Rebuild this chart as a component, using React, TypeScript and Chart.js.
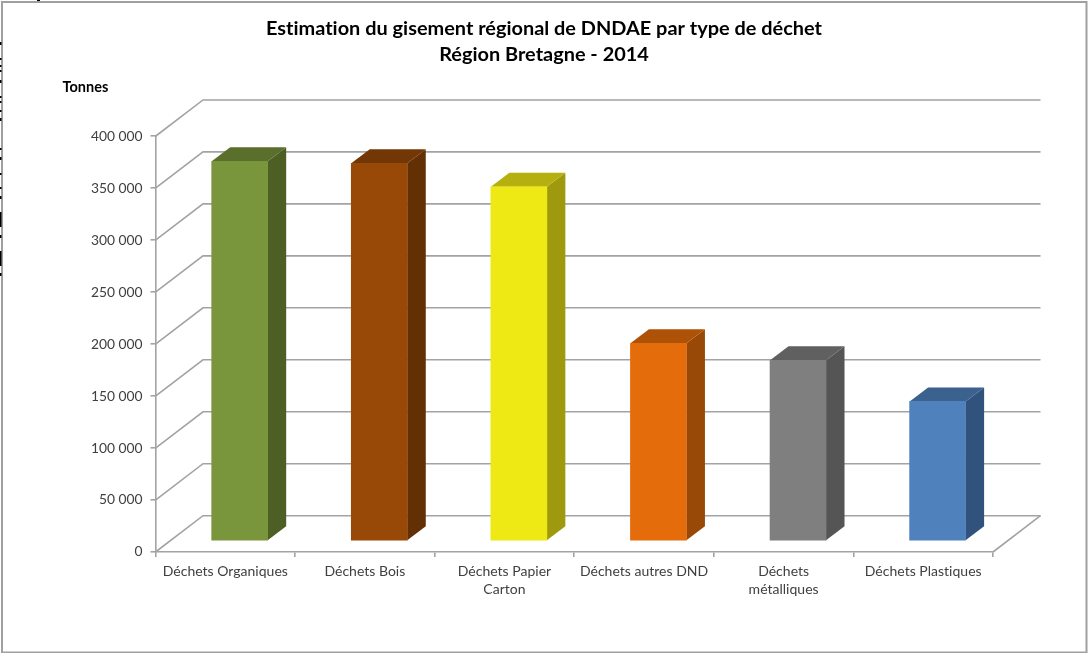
import React, { useEffect, useRef } from "react";
import { Chart, registerables } from "chart.js";

Chart.register(...registerables);

const categories: (string | string[])[] = [
  "Déchets Organiques",
  "Déchets Bois",
  ["Déchets Papier", "Carton"],
  "Déchets autres DND",
  ["Déchets", "métalliques"],
  "Déchets Plastiques",
];
const tonnes = [365300, 363400, 340800, 190200, 173800, 134300];
const frontColors = ["#7a963c", "#984807", "#eee814", "#e46c0a", "#7f7f7f", "#4f81bd"];
const sideColors = ["#4e5f26", "#632f05", "#9f9a0d", "#984807", "#555555", "#30527d"];
const topColors = ["#5a6f2c", "#733605", "#b5b010", "#ae5208", "#606060", "#3b618f"];
const titleLines = ["Estimation du gisement régional de DNDAE par type de déchet", "Région Bretagne - 2014"];
const unitLabel = "Tonnes";

const FONT = "Lato, Carlito, 'Open Sans', sans-serif";
const GRID = "#a3a3a3";
const WALL = { dx: 47.5, dy: -36.3 };
const BAR_SHIFT = { dx: 14.4, dy: -11 };
const BAR_DEPTH = { dx: 18.5, dy: -14 };
const EDGE_MARKS = [
  [42, 3], [58, 2], [65, 2], [70, 2], [80, 3], [96, 2], [101, 2], [110, 2], [118, 3],
  [148, 2], [157, 3], [173, 2], [187, 2], [196, 3], [212, 15], [235, 3], [251, 15], [273, 3],
];

const scene3d = {
  id: "scene3d",
  afterLayout(chart: any) {
    chart.titleBlock.left = 0;
    chart.titleBlock.right = chart.width;
  },
  beforeDraw(chart: any) {
    const { ctx, width, height } = chart;
    ctx.letterSpacing = "0.01px";
    ctx.save();
    ctx.strokeStyle = "#a0a0a0";
    ctx.lineWidth = 2;
    ctx.strokeRect(2, 2, width - 3.5, height - 2.5);
    ctx.fillStyle = "#000";
    EDGE_MARKS.forEach(([y, h]) => ctx.fillRect(0, y, 1.5, h));
    ctx.fillRect(37, 0, 3, 1);
    ctx.font = `bold 14.5px ${FONT}`;
    ctx.textAlign = "left";
    ctx.textBaseline = "middle";
    ctx.fillText(unitLabel, 62.5, 87.5);
    ctx.restore();
  },
  beforeDatasetsDraw(chart: any) {
    const { ctx, chartArea, scales } = chart;
    const { left, right, bottom } = chartArea;
    ctx.save();
    ctx.strokeStyle = GRID;
    ctx.lineWidth = 1.6;
    ctx.lineJoin = "miter";
    scales.y.ticks.forEach((t: any) => {
      const y = scales.y.getPixelForValue(t.value);
      ctx.beginPath();
      ctx.moveTo(left, y);
      ctx.lineTo(left + WALL.dx, y + WALL.dy);
      ctx.lineTo(right + WALL.dx, y + WALL.dy);
      ctx.stroke();
    });
    ctx.beginPath();
    ctx.moveTo(right, bottom);
    ctx.lineTo(right + WALL.dx, bottom + WALL.dy);
    ctx.stroke();
    ctx.restore();

    const meta = chart.getDatasetMeta(0);
    meta.data.forEach((bar: any, i: number) => {
      const { x, y, base, width } = bar.getProps(["x", "y", "base", "width"], true);
      const l = x - width / 2 + BAR_SHIFT.dx;
      const r = x + width / 2 + BAR_SHIFT.dx;
      const t = y + BAR_SHIFT.dy;
      const b = base + BAR_SHIFT.dy;
      ctx.fillStyle = sideColors[i];
      ctx.beginPath();
      ctx.moveTo(r, t);
      ctx.lineTo(r + BAR_DEPTH.dx, t + BAR_DEPTH.dy);
      ctx.lineTo(r + BAR_DEPTH.dx, b + BAR_DEPTH.dy);
      ctx.lineTo(r, b);
      ctx.closePath();
      ctx.fill();
      ctx.fillStyle = topColors[i];
      ctx.beginPath();
      ctx.moveTo(l, t);
      ctx.lineTo(l + BAR_DEPTH.dx, t + BAR_DEPTH.dy);
      ctx.lineTo(r + BAR_DEPTH.dx, t + BAR_DEPTH.dy);
      ctx.lineTo(r, t);
      ctx.closePath();
      ctx.fill();
    });
    ctx.save();
    ctx.translate(BAR_SHIFT.dx, BAR_SHIFT.dy);
  },
  afterDatasetsDraw(chart: any) {
    chart.ctx.restore();
  },
};

export default function App() {
  const ref = useRef<HTMLCanvasElement>(null);
  useEffect(() => {
    document.body.style.margin = "0";
    const chart = new Chart(ref.current!, {
      type: "bar",
      data: {
        labels: categories as any,
        datasets: [
          {
            label: unitLabel,
            data: tonnes,
            backgroundColor: frontColors,
            borderWidth: 0,
            barThickness: 56,
            clip: false as any,
          },
        ],
      },
      options: {
        responsive: false,
        animation: false,
        layout: { padding: { left: 0, right: 95, top: 0, bottom: 0 } },
        plugins: {
          legend: { display: false },
          tooltip: { enabled: false },
          title: {
            display: true,
            text: titleLines,
            color: "#000",
            font: { family: FONT, size: 19.9, weight: "bold", lineHeight: 1.3 },
            padding: { top: 15.5, bottom: 69 },
          },
        },
        scales: {
          x: {
            afterFit: (s: any) => {
              s.height = 101;
            },
            grid: {
              drawOnChartArea: false,
              drawTicks: true,
              tickLength: 5,
              color: GRID,
              lineWidth: 1.6,
            },
            border: { color: GRID, width: 1.6 },
            ticks: {
              color: "#404040",
              font: { family: FONT, size: 14, lineHeight: 1.32 },
              padding: 5,
              maxRotation: 0,
              autoSkip: false,
            },
          },
          y: {
            min: 0,
            max: 400000,
            afterFit: (s: any) => {
              s.width = 155.5;
            },
            grid: {
              drawOnChartArea: false,
              tickLength: 5,
              color: GRID,
              lineWidth: 1.6,
            },
            border: { color: GRID, width: 1.6 },
            ticks: {
              stepSize: 50000,
              color: "#404040",
              font: { family: FONT, size: 13.8 },
              padding: 8,
              callback: (v: any) => String(v).replace(/\B(?=(\d{3})+$)/g, " "),
            },
          },
        },
      },
      plugins: [scene3d],
    } as any);
    return () => chart.destroy();
  }, []);
  return <canvas ref={ref} width={1088} height={653} style={{ display: "block" }} />;
}
